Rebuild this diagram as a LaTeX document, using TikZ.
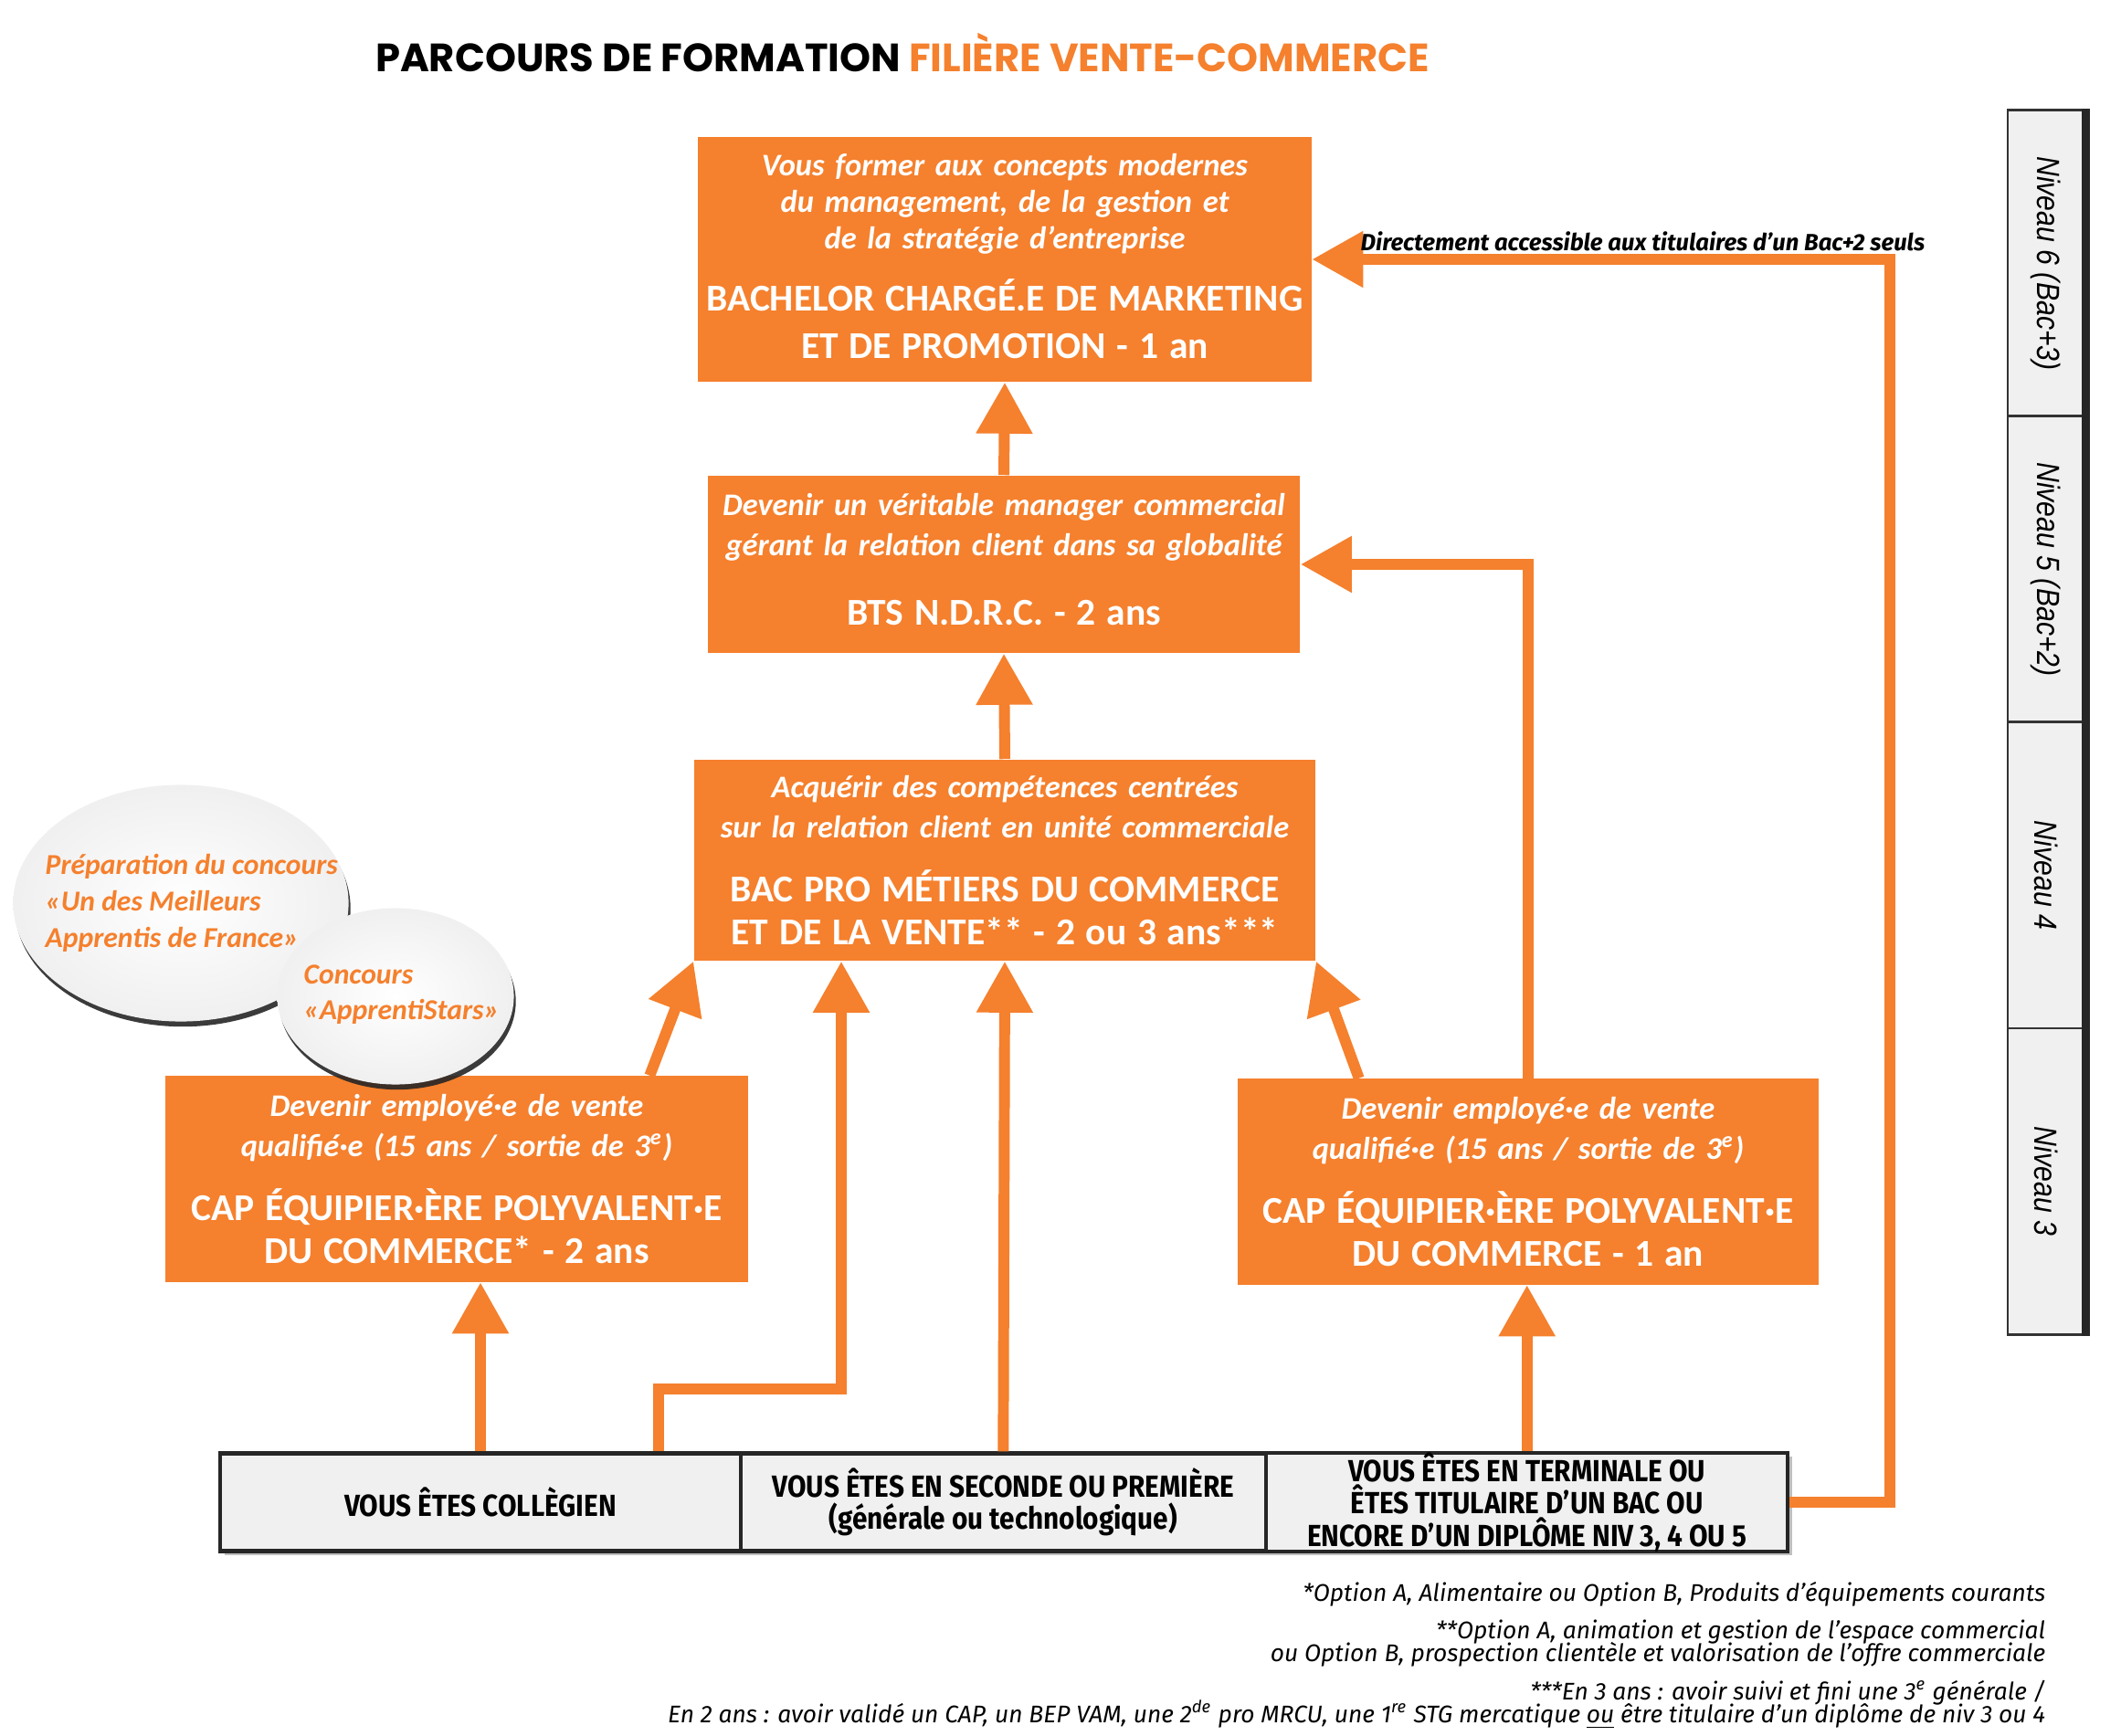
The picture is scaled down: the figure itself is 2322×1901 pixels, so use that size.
\documentclass[tikz,border=0pt]{standalone}
\usepackage{fontspec}
\setmainfont{Carlito}
\newfontfamily\titrefont{Poppins}
\newfontfamily\dinfont[FakeStretch=0.89]{Fira Sans}
\newfontfamily\notefont{Fira Sans}
\newfontfamily\etroitfont[FakeStretch=0.86]{Liberation Sans}
\usetikzlibrary{positioning}
\usetikzlibrary{shapes.geometric}
\usetikzlibrary{arrows.meta}
\usetikzlibrary{shadows}
\definecolor{orangeV}{RGB}{245,128,45}
\definecolor{grisclair}{RGB}{240,240,240}

% accroche en italique, puis intitule du diplome
\newcommand{\accroche}[2][12.5]{{\bfseries\itshape\fontsize{9.8}{#1}\selectfont #2\par}}
\newcommand{\diplome}[2][13.5]{{\vspace{6.5pt}\bfseries\fontsize{11.8}{#1}\selectfont #2\par}}
\newcommand{\serre}{\lineskiplimit=-100pt\relax}

\begin{document}
\begin{tikzpicture}[x=0.01cm,y=-0.01cm]
	\tikzstyle{obox}   = [fill=orangeV, text=white, inner sep=0pt, align=center]
	\tikzstyle{gbox}   = [draw=black!85, line width=1.2pt, fill=grisclair, minimum height=1.07cm, inner sep=0pt, align=center,
	                      font=\dinfont\bfseries\fontsize{9.5}{10}\selectfont, drop shadow={shadow xshift=1.2pt, shadow yshift=-1.2pt, opacity=0.5}]
	\tikzstyle{bulle}  = [ellipse, inner sep=0pt, inner color=white, outer color=black!6,
	                      drop shadow={shadow xshift=0.6pt, shadow yshift=-1.6pt, fill=black!85, opacity=0.9}]
	\tikzstyle{bultexte} = [anchor=west, inner sep=0pt, align=left, text=orangeV, font=\bfseries\itshape\fontsize{9}{11.3}\selectfont]
	\tikzstyle{niveau} = [draw=black!80, line width=0.8pt, fill=grisclair, rotate=-90, minimum width=3.35cm, minimum height=0.84cm,
	                      inner sep=0pt, font=\etroitfont\itshape\fontsize{10}{10}\selectfont]
	\tikzstyle{fleche} = [draw=orangeV, line width=3.4pt, -{Triangle[width=0.59cm,length=0.56cm]}]

	\useasboundingbox (0,0) rectangle (2322,1901);

	\node[font=\titrefont\bfseries\fontsize{12.3}{13}\selectfont] (titre) at (988,58)
		{PARCOURS DE FORMATION \textcolor{orangeV}{FILIÈRE VENTE-COMMERCE}};

	% les diplomes
	\node[obox, text width=6.71cm, minimum height=2.68cm] (bachelor) at (1100,284)
		{\accroche[11.3]{Vous former aux concepts modernes\\du management, de la gestion et\\de la stratégie d’entreprise}%
		 \vspace{-2pt}\diplome[14.8]{BACHELOR CHARGÉ.E DE MARKETING\\ET DE PROMOTION - 1 an}\vspace{2pt}};
	\node[obox, text width=6.48cm, minimum height=1.94cm] (bts) at (1099,618)
		{\accroche{Devenir un véritable manager commercial\\gérant la relation client dans sa globalité}%
		 \vspace{1.5pt}\diplome{BTS N.D.R.C. - 2 ans}\vspace{3pt}};
	\node[obox, text width=6.80cm, minimum height=2.20cm] (bacpro) at (1100,942)
		{\accroche{Acquérir des compétences centrées\\sur la relation client en unité commerciale}%
		 \diplome{BAC PRO MÉTIERS DU COMMERCE\\ET DE LA VENTE** - 2 ou 3 ans***}};
	\node[obox, text width=6.37cm, minimum height=2.25cm] (capL) at (500,1291)
		{\accroche{Devenir employé·e de vente\\qualifié·e (15 ans / sortie de 3\textsuperscript{e})}%
		 \diplome{CAP ÉQUIPIER·ÈRE POLYVALENT·E\\DU COMMERCE* - 2 ans}};
	\node[obox, text width=6.35cm, minimum height=2.25cm] (capR) at (1673,1294)
		{\accroche{Devenir employé·e de vente\\qualifié·e (15 ans / sortie de 3\textsuperscript{e})}%
		 \diplome{CAP ÉQUIPIER·ÈRE POLYVALENT·E\\DU COMMERCE - 1 an}};

	% les concours
	\node[bulle, minimum width=3.67cm, minimum height=2.59cm] (mafbulle) at (198,989) {};
	\node[bultexte] (maftexte) at (49,989) {Préparation du concours\\«Un des Meilleurs\\Apprentis de France»};
	\node[bulle, minimum width=2.59cm, minimum height=1.93cm] (starsbulle) at (433,1091) {};
	\node[bultexte] (starstexte) at (332,1089) {Concours\\«ApprentiStars»};

	% profils d'entree
	\node[gbox, minimum width=5.69cm] (coll) at (526,1645) {VOUS ÊTES COLLÈGIEN};
	\node[gbox, minimum width=5.75cm, right=-1.2pt of coll] (sec)
		{VOUS ÊTES EN SECONDE OU PREMIÈRE\\(générale ou technologique)};
	\node[gbox, minimum width=5.71cm, right=-1.2pt of sec] (term)
		{VOUS ÊTES EN TERMINALE OU\\ÊTES TITULAIRE D’UN BAC OU\\ENCORE D’UN DIPLÔME NIV 3, 4 OU 5};

	% niveaux
	\foreach \lab [count=\i] in {{Niveau 6 (Bac+3)},{Niveau 5 (Bac+2)},{Niveau 4},{Niveau 3}}
		\node[niveau] (niv\i) at (2240,{335*\i-46.5}) {\lab};
	\draw[line width=2.5pt, black!85] (niv1.north west) -- (niv4.north east);

	% parcours
	\coordinate (virage) at (921,1521);
	\coordinate (coude) at (2069,0);
	\draw[fleche] (bts.north) -- (bachelor.south);
	\draw[fleche] (bacpro.north) -- (bts.south);
	\draw[fleche] (sec.north) -- (bacpro.south);
	\draw[fleche] (coll.north) -- (coll.north |- capL.south);
	\draw[fleche] ([xshift=1.95cm]coll.north) |- (virage) -- (virage |- bacpro.south);
	\draw[fleche] ([xshift=-1.08cm]capL.north east) -- (bacpro.south west);
	\draw[fleche] ([xshift=1.33cm]capR.north west) -- (bacpro.south east);
	\draw[fleche] (term.north) -- (term.north |- capR.south);
	\draw[fleche] (capR.north) |- (bts.east);
	\draw[fleche] (term.east) -| (coude |- bachelor.east) -- (bachelor.east);
	\node[anchor=west, inner sep=0pt, font=\notefont\bfseries\itshape\fontsize{7.3}{8}\selectfont] (acces) at (1489,264)
		{Directement accessible aux titulaires d’un Bac+2 seuls};

	% renvois
	\node[anchor=north east, align=right, inner sep=0pt,
	      font=\notefont\itshape\fontsize{7.5}{7.1}\selectfont\serre] (renvois) at (2240,1732)
		{*Option A, Alimentaire ou Option B, Produits d’équipements courants\\[4.6pt]
		 **Option A, animation et gestion de l’espace commercial\\
		 ou Option B, prospection clientèle et valorisation de l’offre commerciale\\[4.6pt]
		 ***En 3 ans : avoir suivi et fini une 3\textsuperscript{e} générale /\\
		 En 2 ans : avoir validé un CAP, un BEP VAM, une 2\textsuperscript{de} pro MRCU, une 1\textsuperscript{re} STG mercatique \underline{ou} être titulaire d’un diplôme de niv 3 ou 4};
\end{tikzpicture}
\end{document}
